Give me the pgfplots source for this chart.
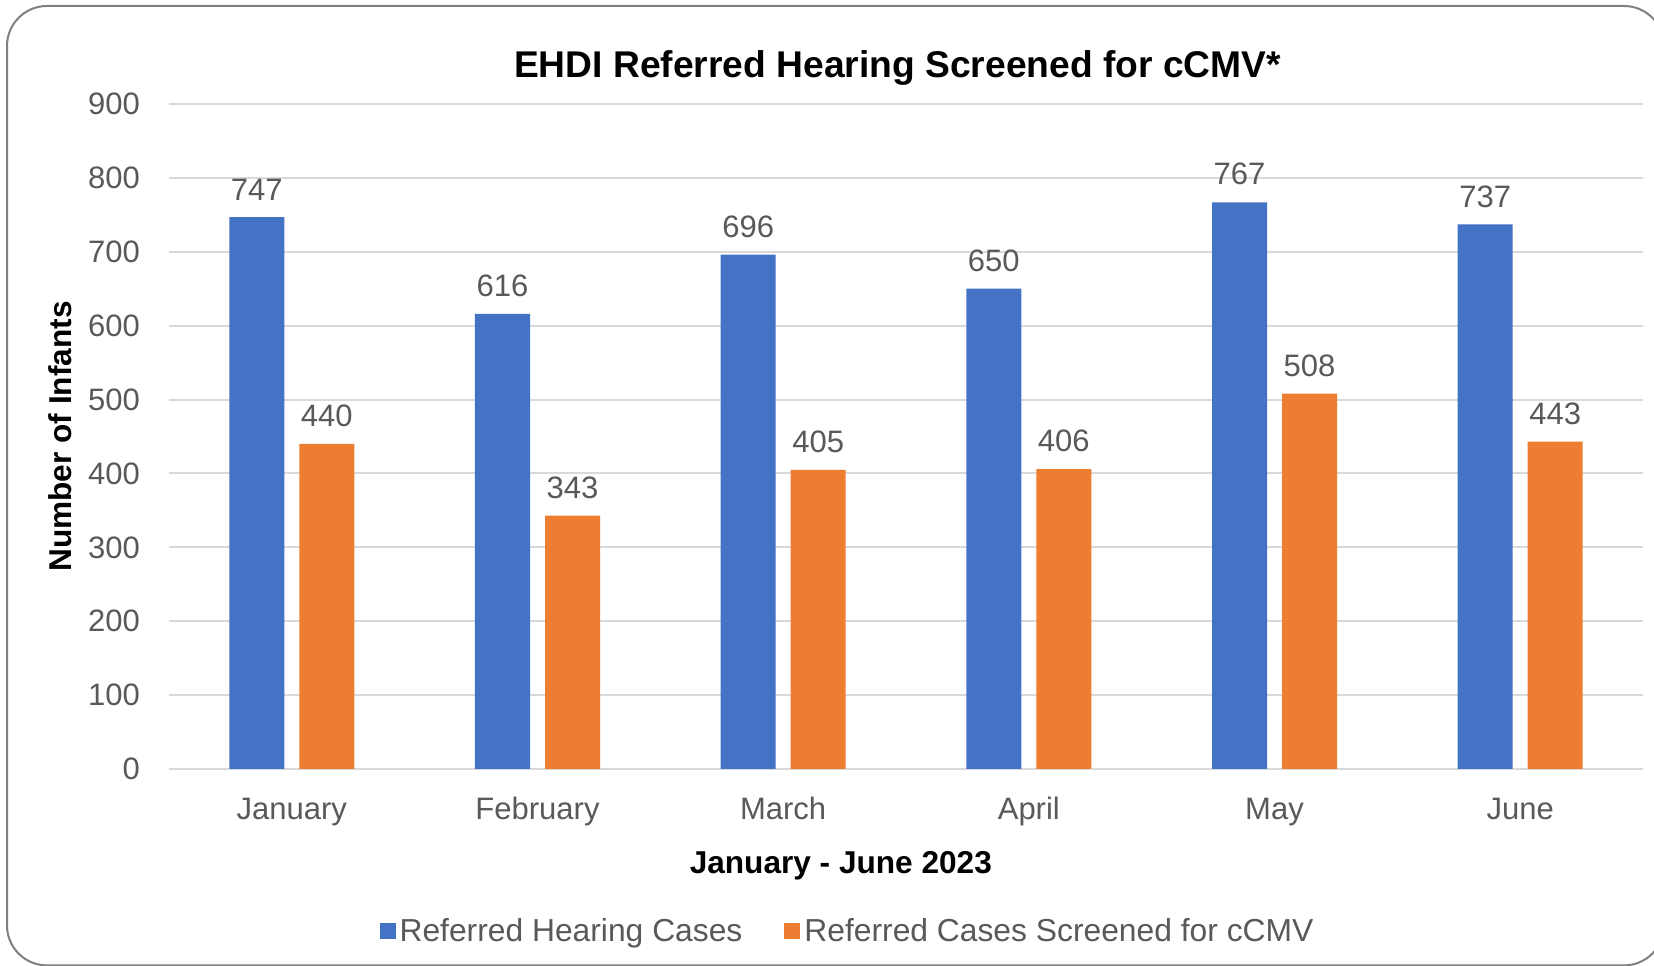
\documentclass[border=0pt]{standalone}
\usepackage{pgfplots}
\pgfplotsset{compat=1.18}
\usepackage{fontspec}
\setmainfont{Liberation Sans}
\definecolor{barblue}{HTML}{4472C4}
\definecolor{barorange}{HTML}{ED7D31}
\definecolor{gridgray}{HTML}{D9D9D9}
\definecolor{txtgray}{HTML}{595959}
\definecolor{framegray}{HTML}{808080}
\begin{document}
\begin{tikzpicture}
\useasboundingbox (0,0) rectangle (827bp,483bp);
\fill[white] (0,0) rectangle (827bp,483bp);
\draw[framegray, line width=1bp, rounded corners=20bp] (3.5bp,0.3bp) rectangle (832bp,480bp);
\begin{axis}[
  at={(84.5bp,98.5bp)}, anchor=south west,
  scale only axis, width=737bp, height=332.5bp,
  xmin=-0.5, xmax=5.5, ymin=0, ymax=900,
  ybar=7.5bp, bar width=27.5bp,
  xtick={0,1,2,3,4,5},
  xticklabels={January,February,March,April,May,June},
  ytick={0,100,...,900},
  axis line style={draw=none},
  major tick length=0pt,
  ymajorgrids, grid style={gridgray, line width=1bp},
  /pgf/number format/assume math mode=true,
  ticklabel style={font=\fontsize{15.5bp}{18bp}\selectfont, text=txtgray},
  yticklabel style={anchor=east, xshift=-11bp},
  xticklabel style={anchor=base, yshift=-25bp},
  nodes near coords,
  every node near coord/.append style={font=\fontsize{15.5bp}{18bp}\selectfont, text=txtgray, yshift=5bp},
  title={EHDI Referred Hearing Screened for cCMV*},
  title style={font=\bfseries\fontsize{18.6bp}{22bp}\selectfont, at={(axis description cs:0.4943,1.0225)}, anchor=base, yshift=0pt},
  xlabel={January - June 2023},
  xlabel style={font=\bfseries\fontsize{15.8bp}{19bp}\selectfont, at={(axis description cs:0.4558,-0.1571)}, anchor=base, yshift=0pt},
  ylabel={Number of Infants},
  ylabel style={font=\bfseries\fontsize{15.8bp}{19bp}\selectfont, at={(axis description cs:-0.07395,0.5)}, anchor=center},
  legend columns=2,
  legend style={draw=none, fill=none, at={(axis description cs:0.461,-0.2436)}, anchor=center,
    font=\fontsize{15.9bp}{19bp}\selectfont, text=txtgray,
    /tikz/every even column/.append style={column sep=19bp}},
  legend image code/.code={\fill[#1] (0bp,-4bp) rectangle (8bp,4bp);},
]
\addplot[fill=barblue, draw=none] coordinates {(0,747) (1,616) (2,696) (3,650) (4,767) (5,737)};
\addplot[fill=barorange, draw=none] coordinates {(0,440) (1,343) (2,405) (3,406) (4,508) (5,443)};
\legend{Referred Hearing Cases, Referred Cases Screened for cCMV}
\end{axis}
\end{tikzpicture}
\end{document}
